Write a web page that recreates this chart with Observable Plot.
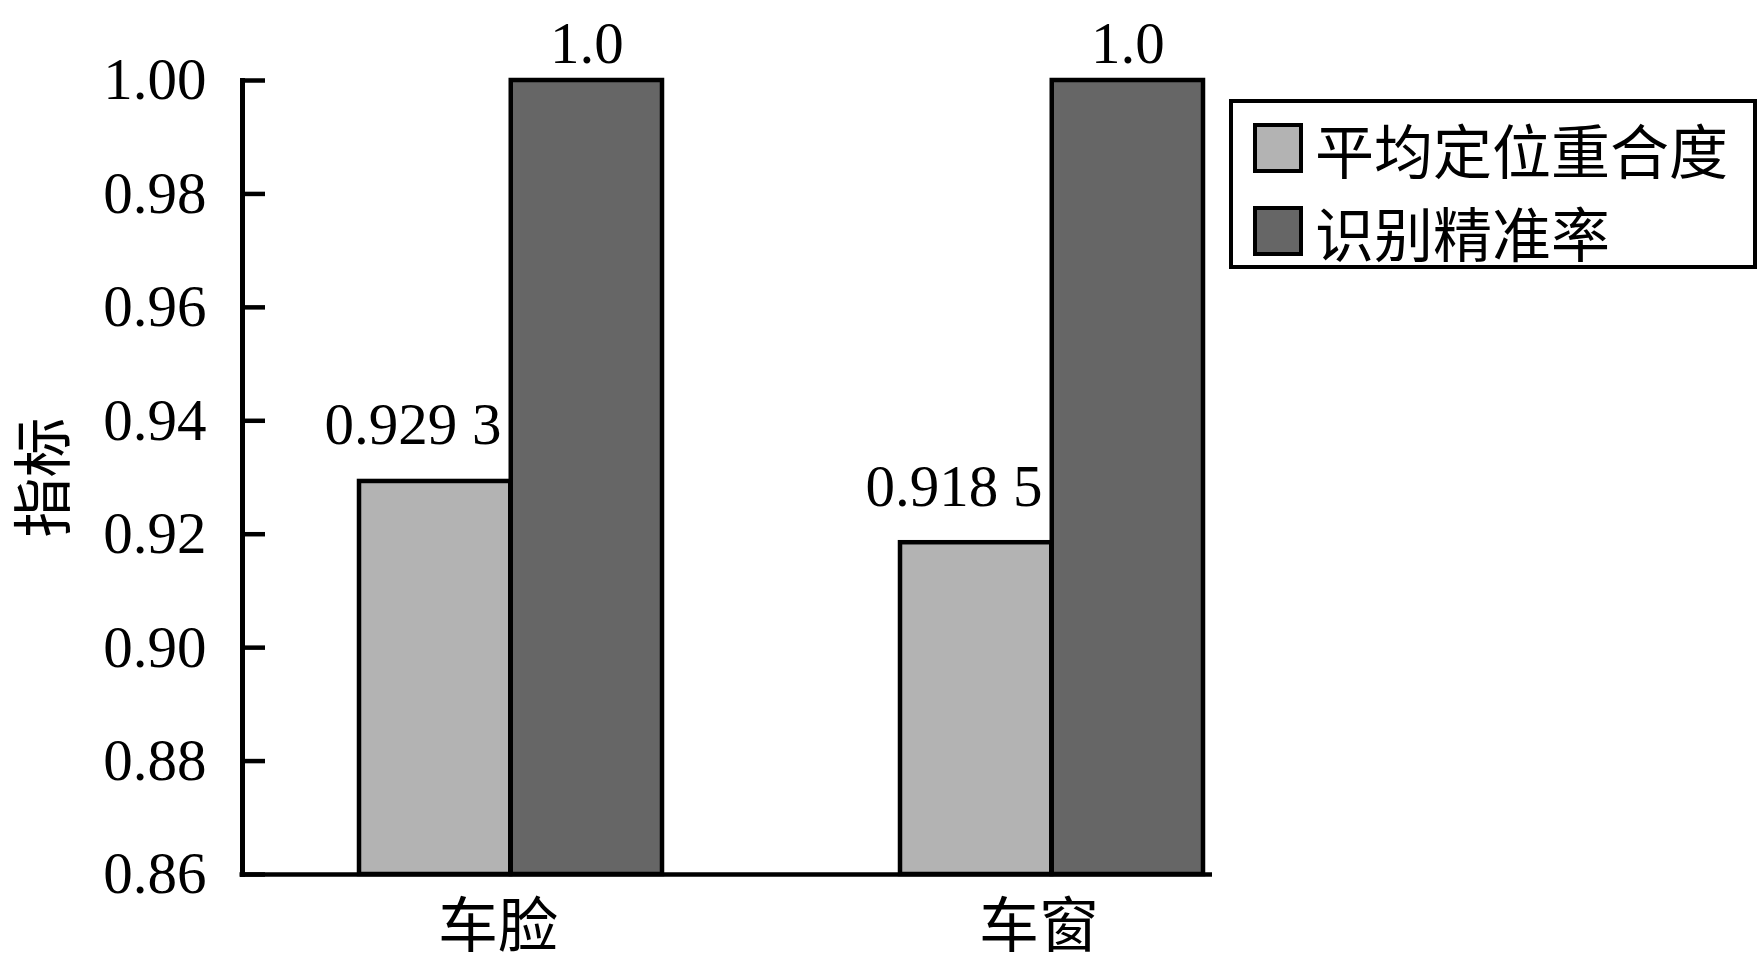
<!DOCTYPE html>
<html>
<head>
<meta charset="utf-8">
<script src="https://cdn.jsdelivr.net/npm/d3@7"></script>
<script src="https://cdn.jsdelivr.net/npm/@observablehq/plot@0.6"></script>
<style>
  html, body { margin: 0; padding: 0; background: #fff; }
  #wrap { position: relative; width: 1760px; height: 965px; }
  #legend {
    position: absolute; left: 1229px; top: 99px; width: 520px; height: 162px;
    border: 4px solid #000; background: #fff;
    font-family: "Noto Sans CJK SC", sans-serif; font-size: 59px; color: #000;
  }
  .row { position: absolute; left: 20px; display: flex; align-items: center; height: 60px; }
  .sw { width: 42px; height: 42px; border: 4px solid #000; margin-right: 12px; }
</style>
</head>
<body>
<div id="wrap"></div>
<script>
// Categories, series and their values
const categories = ["车脸", "车窗"];
const series = ["平均定位重合度", "识别精准率"];
const overlap = [0.9293, 0.9185];   // 平均定位重合度
const precision = [1.0, 1.0];       // 识别精准率
const overlapLabels = ["0.929 3", "0.918 5"];
const precisionLabels = ["1.0", "1.0"];
const yTicks = [0.86, 0.88, 0.90, 0.92, 0.94, 0.96, 0.98, 1.00];
const colors = ["#b3b3b3", "#666666"];

const width = 1760, height = 965;
const marginLeft = 242, marginRight = 548, marginTop = 80, marginBottom = 91;
const yDomain = [0.86, 1.00];

const xOpts = {type: "band", domain: categories, range: [359, 1204], paddingInner: 0.4395, paddingOuter: 0};
const half = Plot.scale({x: xOpts}).bandwidth / 2;

const rowsA = categories.map((c, i) => ({category: c, value: overlap[i], label: overlapLabels[i]}));
const rowsB = categories.map((c, i) => ({category: c, value: precision[i], label: precisionLabels[i]}));

const serif = "Liberation Serif, Times New Roman, serif";
const cjk = "Noto Sans CJK SC, sans-serif";

const chart = Plot.plot({
  width, height, marginLeft, marginRight, marginTop, marginBottom,
  style: {fontFamily: serif, fontSize: "59px", color: "#000", background: "#fff", overflow: "visible"},
  x: {...xOpts, axis: null},
  y: {domain: yDomain, axis: null},
  marks: [
    // bars: left half of each band for the first series, right half for the second
    Plot.barY(rowsA, {x: "category", y1: () => yDomain[0], y2: "value", insetRight: half,
      fill: colors[0], stroke: "#000", strokeWidth: 4.5}),
    Plot.barY(rowsB, {x: "category", y1: () => yDomain[0], y2: "value", insetLeft: half,
      fill: colors[1], stroke: "#000", strokeWidth: 4.5}),
    // value labels
    Plot.text(rowsA, {x: "category", y: "value", text: "label", dx: -half / 2 - 22, dy: -37,
      lineAnchor: "bottom", fontFamily: serif, fontSize: 59, fill: "#000"}),
    Plot.text(rowsB, {x: "category", y: "value", text: "label", dx: half / 2, dy: -18,
      lineAnchor: "bottom", fontFamily: serif, fontSize: 59, fill: "#000"}),
    // y axis: line, inward ticks, labels
    Plot.frame({anchor: "left", stroke: "#000", strokeWidth: 5}),
    Plot.ruleY(yTicks, {y: d => d, insetRight: (width - marginLeft - marginRight) - 23, stroke: "#000", strokeWidth: 4.5}),
    Plot.axisY({ticks: yTicks, tickFormat: d3.format(".2f"), tickSize: 0, tickPadding: 36, label: null,
      fontFamily: serif, fontSize: 59, fill: "#000"}),
    // x axis: baseline and category labels
    Plot.ruleY([yDomain[0]], {stroke: "#000", strokeWidth: 4.5, insetLeft: -2.5}),
    Plot.axisX({tickSize: 0, tickPadding: 30, dx: -13, label: null, fontFamily: cjk, fontSize: 60, fill: "#000"}),
    // y axis title
    Plot.text(["指标"], {frameAnchor: "left", rotate: -90, dx: -197, text: d => d, textAnchor: "middle",
      fontFamily: cjk, fontSize: 60, fill: "#000"})
  ]
});

const wrap = document.getElementById("wrap");
wrap.appendChild(chart);

// legend
const legend = document.createElement("div");
legend.id = "legend";
series.forEach((s, i) => {
  const row = document.createElement("div");
  row.className = "row";
  row.style.top = (i === 0 ? 15 : 98) + "px";
  const sw = document.createElement("div");
  sw.className = "sw";
  sw.style.background = colors[i];
  const t = document.createElement("span");
  t.textContent = s;
  row.appendChild(sw);
  row.appendChild(t);
  legend.appendChild(row);
});
wrap.appendChild(legend);
</script>
</body>
</html>
